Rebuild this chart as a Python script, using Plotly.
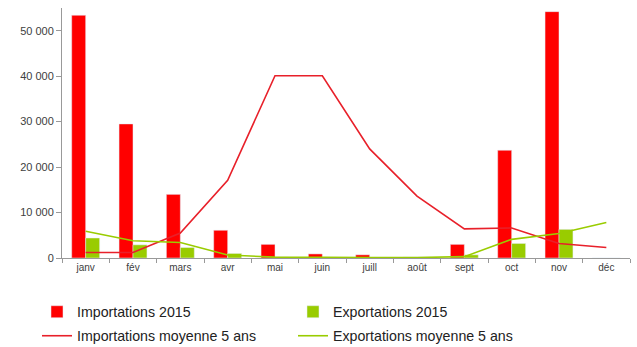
import plotly.graph_objects as go

mois = ["janv", "fév", "mars", "avr", "mai", "juin", "juill", "août", "sept", "oct", "nov", "déc"]
import_2015 = [53400, 29500, 14000, 6100, 3000, 900, 700, 200, 3000, 23700, 54200, 0]
export_2015 = [4400, 2900, 2300, 1000, 200, 100, 100, 200, 700, 3200, 6300, 0]
import_moy5 = [1200, 1200, 5500, 17100, 40100, 40100, 24000, 13600, 6400, 6600, 3200, 2300]
export_moy5 = [5900, 3800, 3400, 650, 200, 100, 100, 100, 300, 4100, 5400, 7800]
y_ticks = [0, 10000, 20000, 30000, 40000, 50000]
y_labels = ["0", "10 000", "20 000", "30 000", "40 000", "50 000"]

fig = go.Figure()
fig.add_trace(go.Bar(x=mois, y=import_2015, name="Importations 2015", marker_color="#ff0000",
                     legend="legend"))
fig.add_trace(go.Bar(x=mois, y=export_2015, name="Exportations 2015", marker_color="#99cc00",
                     legend="legend"))
fig.add_trace(go.Scatter(x=mois, y=import_moy5, name="Importations moyenne 5 ans", mode="lines",
                         line=dict(color="#e8202a", width=1.6), legend="legend2"))
fig.add_trace(go.Scatter(x=mois, y=export_moy5, name="Exportations moyenne 5 ans", mode="lines",
                         line=dict(color="#99cc00", width=1.6), legend="legend2"))

plot_h = 250.0
plot_w = 568.0
leg_x = (37 - 62) / plot_w
common_leg = dict(orientation="h", x=leg_x, xanchor="left", yanchor="middle",
                  entrywidth=211, entrywidthmode="pixels",
                  font=dict(size=14.2, color="#222222"), itemwidth=30,
                  bgcolor="rgba(0,0,0,0)")

fig.update_layout(
    width=637, height=347,
    margin=dict(l=62, r=7, t=8, b=89, autoexpand=False),
    paper_bgcolor="white", plot_bgcolor="white",
    barmode="group", bargap=0.41, bargroupgap=0,
    font=dict(family="Liberation Sans, Arial, sans-serif", color="#404040"),
    showlegend=True,
    legend=dict(common_leg, y=-(312 - 258) / plot_h),
    legend2=dict(common_leg, y=-(336 - 258) / plot_h),
    hovermode=False,
)
fig.update_xaxes(showline=True, linecolor="#999999", linewidth=1, ticks="outside", tickson="boundaries",
                 ticklen=4, tickcolor="#999999", tickfont=dict(size=10, color="#404040"), showgrid=False)
fig.update_yaxes(range=[0, 55000], tickvals=y_ticks, ticktext=y_labels, showline=True, linecolor="#999999",
                 linewidth=1, ticks="outside", ticklen=5, tickcolor="#999999", showgrid=False, zeroline=False,
                 tickfont=dict(size=11, color="#404040"))

fig.write_html("out.html")
